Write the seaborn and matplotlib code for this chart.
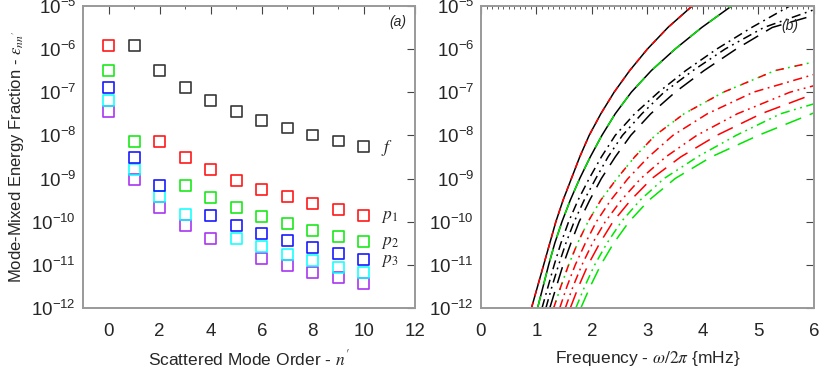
import numpy as np
import matplotlib
matplotlib.use("Agg")
import matplotlib.pyplot as plt
import seaborn as sns

# ---- panel (a): mode-mixed energy fraction vs scattered mode order ----
n_order = [0, 1, 2, 3, 4, 5, 6, 7, 8, 9, 10]
eps_f = [np.nan, 1.2e-6, 3.2e-7, 1.27e-7, 6.3e-8, 3.5e-8, 2.2e-8, 1.48e-8, 1.02e-8, 7.4e-9, 5.5e-9]
eps_p1 = [1.2e-6, np.nan, 7.1e-9, 3.1e-9, 1.6e-9, 9.1e-10, 5.7e-10, 3.8e-10, 2.6e-10, 1.9e-10, 1.4e-10]
eps_p2 = [3.2e-7, 7.1e-9, np.nan, 7.0e-10, 3.6e-10, 2.1e-10, 1.3e-10, 8.9e-11, 6.4e-11, 4.6e-11, 3.5e-11]
eps_p3 = [1.27e-7, 3.1e-9, 7.0e-10, np.nan, 1.38e-10, 8.3e-11, 5.2e-11, 3.6e-11, 2.5e-11, 1.8e-11, 1.35e-11]
eps_p4 = [6.5e-8, 1.6e-9, 3.8e-10, 1.45e-10, np.nan, 4.0e-11, 2.6e-11, 1.7e-11, 1.24e-11, 8.9e-12, 6.7e-12]
eps_p5 = [3.6e-8, 9.3e-10, 2.1e-10, 8.3e-11, 4.0e-11, np.nan, 1.4e-11, 9.5e-12, 6.7e-12, 5.0e-12, 3.7e-12]

# ---- panel (b): log10 energy fraction vs frequency (mHz) ----
log_half = [-12, -11.5, -11, -10.5, -10, -9.5, -9, -8.5, -8, -7.5, -7, -6.5, -6, -5.5, -5]

freq_u1 = [0.91, 1.02, 1.13, 1.24, 1.35, 1.48, 1.63, 1.78, 1.95, 2.16, 2.40, 2.68, 3.00, 3.37, 3.81]
log_u1 = log_half
freq_u2 = [1.02, 1.12, 1.22, 1.33, 1.46, 1.61, 1.78, 1.97, 2.18, 2.42, 2.71, 3.07, 3.50, 3.98, 4.52]
log_u2 = log_half
freq_u3 = [1.10, 1.21, 1.32, 1.44, 1.58, 1.75, 1.95, 2.17, 2.42, 2.77, 3.20, 3.69, 4.25, 4.88, 5.57]
log_u3 = log_half
freq_u4 = [1.17, 1.28, 1.40, 1.53, 1.68, 1.86, 2.07, 2.29, 2.55, 2.90, 3.30, 3.82, 4.40, 5.10, 6.00]
log_u4 = log_half[:-1] + [-5.09]
freq_u5 = [1.24, 1.36, 1.48, 1.62, 1.77, 1.96, 2.17, 2.42, 2.70, 3.06, 3.50, 4.02, 4.60, 5.25, 6.00]
log_u5 = log_half[:-1] + [-5.22]

freq_l1 = [1.31, 1.44, 1.58, 1.74, 1.93, 2.16, 2.45, 2.77, 3.14, 3.66, 4.37, 5.30, 6.00]
log_l1 = log_half[:12] + [-6.30]
freq_l2 = [1.42, 1.55, 1.70, 1.88, 2.08, 2.34, 2.65, 3.02, 3.46, 4.08, 4.91, 6.00]
log_l2 = log_half[:11] + [-6.59]
freq_l3 = [1.52, 1.66, 1.82, 2.01, 2.24, 2.53, 2.88, 3.33, 3.89, 4.62, 5.57, 6.00]
log_l3 = log_half[:11] + [-6.85]
freq_l4 = [1.61, 1.76, 1.93, 2.14, 2.38, 2.70, 3.08, 3.60, 4.25, 5.05, 6.00]
log_l4 = log_half[:10] + [-7.04]
freq_l5 = [1.71, 1.87, 2.05, 2.27, 2.53, 2.87, 3.30, 3.90, 4.60, 5.40, 6.00]
log_l5 = log_half[:10] + [-7.27]
freq_l6 = [1.80, 1.97, 2.16, 2.39, 2.67, 3.03, 3.50, 4.15, 5.00, 6.00]
log_l6 = log_half[:9] + [-7.48]

RED = "#ff0000"
GREEN = "#00e600"
BLUE = "#0000ff"
CYAN = "#00ffff"
PURPLE = "#a020f0"
SPINE = "#999999"

DASH_DOT = (0, (6, 3, 1.2, 3))
DASH_DOT_DOT = (0, (6, 3, 1.2, 3, 1.2, 3))
LONG_DASH = (0, (11, 6))

sns.set_theme(style="white")
plt.rcParams["font.family"] = ["Liberation Sans", "DejaVu Sans"]
plt.rcParams["mathtext.fontset"] = "stix"

fig = plt.figure(figsize=(8.3, 3.68), dpi=100)
ax1 = fig.add_axes([0.100, 0.163, 0.400, 0.821])
ax2 = fig.add_axes([0.5795, 0.163, 0.401, 0.821])

# panel (a) squares
series_a = [
    (eps_p5, PURPLE), (eps_p4, CYAN), (eps_p3, BLUE),
    (eps_p2, GREEN), (eps_p1, RED), (eps_f, "#222222"),
]
for vals, col in series_a:
    sns.scatterplot(x=n_order, y=vals, ax=ax1, marker="s", s=62,
                    facecolor="none", edgecolor=col, linewidth=1.2, alpha=0.9)

lab_kw = dict(textcoords="offset points", fontsize=12.5, va="center", ha="left")
ax1.annotate(r"$f$", xy=(n_order[-1], eps_f[-1]), xytext=(12, -1), **lab_kw)
ax1.annotate(r"$p_1$", xy=(n_order[-1], eps_p1[-1]), xytext=(12, -1), **lab_kw)
ax1.annotate(r"$p_2$", xy=(n_order[-1], eps_p2[-1]), xytext=(12, -1), **lab_kw)
ax1.annotate(r"$p_3$", xy=(n_order[-1], eps_p3[-1]), xytext=(12, -1), **lab_kw)

ax1.set_xlim(-1, 12)
ax1.set_xticks(range(0, 13, 2))
ax1.set_xticks(range(-1, 13), minor=True)
ax1.set_xlabel(r"Scattered Mode Order - $n'$", fontsize=12.5, labelpad=6)
ax1.set_ylabel(r"Mode-Mixed Energy Fraction - $\varepsilon_{nn'}$", fontsize=12, labelpad=4)
ax1.text(0.975, 0.97, "(a)", transform=ax1.transAxes, ha="right", va="top",
         fontsize=10, style="italic")


def curve(fr, lg, color, ls="-"):
    sns.lineplot(x=fr, y=np.power(10.0, lg), ax=ax2, color=color, lw=1.1, ls=ls,
                 sort=False, estimator=None)


# panel (b) curves
curve(freq_u1, log_u1, "black")
curve(freq_u1, log_u1, RED, (0, (4, 4)))
curve(freq_u2, log_u2, "black")
curve(freq_u2, log_u2, GREEN, (0, (8, 8)))
curve(freq_u3, log_u3, "black", DASH_DOT)
curve(freq_u4, log_u4, "black", DASH_DOT_DOT)
curve(freq_u5, log_u5, "black", LONG_DASH)

curve(freq_l1, log_l1, GREEN, (0, (1.2, 3)))
curve(freq_l1, log_l1, RED, (0, (5, 7.4)))
curve(freq_l2, log_l2, RED, DASH_DOT)
curve(freq_l3, log_l3, RED, DASH_DOT_DOT)
curve(freq_l4, log_l4, RED, LONG_DASH)
curve(freq_l5, log_l5, GREEN, DASH_DOT_DOT)
curve(freq_l6, log_l6, GREEN, LONG_DASH)

ax2.set_xlim(0, 6)
ax2.set_xticks(range(0, 7))
ax2.set_xticks(np.arange(0, 6.01, 0.1), minor=True)
ax2.set_xlabel(r"Frequency - $\omega/2\pi$ {mHz}", fontsize=12.5, labelpad=6)
ax2.text(0.955, 0.955, "(b)", transform=ax2.transAxes, ha="right", va="top",
         fontsize=10, style="italic")

for ax in (ax1, ax2):
    ax.set_yscale("log")
    ax.set_ylim(1e-12, 1e-5)
    ax.set_yticks([10.0 ** k for k in range(-12, -4)])
    ax.yaxis.set_minor_locator(matplotlib.ticker.NullLocator())
    ax.tick_params(which="both", direction="in", top=True, right=True,
                   color="#444444", labelsize=13.5)
    ax.tick_params(axis="x", pad=11)
    ax.tick_params(axis="y", pad=5)
    ax.tick_params(which="major", length=5.5, width=0.8)
    ax.tick_params(which="minor", length=2.5, width=0.6)
    for sp in ax.spines.values():
        sp.set_color(SPINE)
        sp.set_linewidth(1.4)
    ax.grid(False)

fig.savefig("out.png", dpi=100)
